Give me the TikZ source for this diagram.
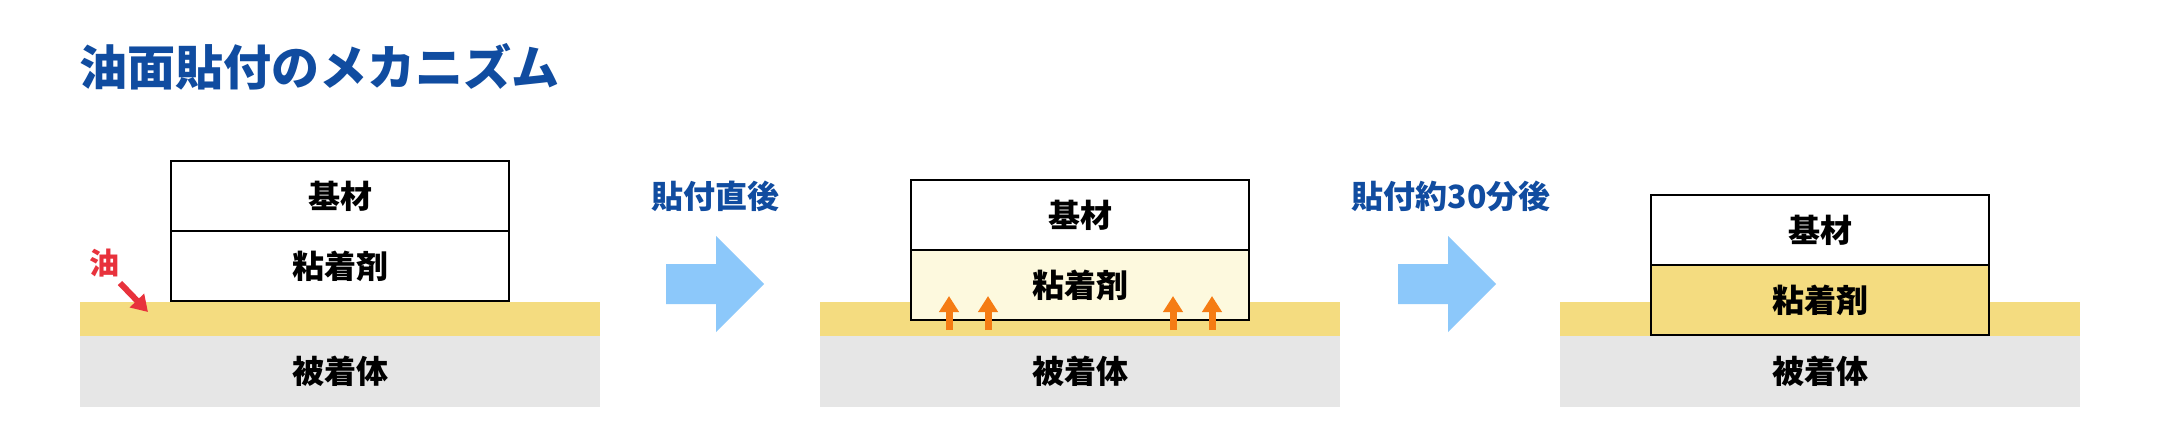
\documentclass[tikz,border=0pt]{standalone}
\usepackage{fontspec}
\setmainfont{Noto Sans CJK JP}
\usetikzlibrary{arrows.meta}
\definecolor{titleblue}{RGB}{16,76,160}
\definecolor{oilband}{RGB}{244,220,128}
\definecolor{substrate}{RGB}{230,230,230}
\definecolor{paleadh}{RGB}{253,249,222}
\definecolor{flowblue}{RGB}{140,200,250}
\definecolor{oilred}{RGB}{232,50,60}
\definecolor{seep}{RGB}{245,124,20}
\tikzset{
  lbl/.style={font=\bfseries\fontsize{32}{38}\selectfont, text=black},
  oillayer/.style={fill=oilband, draw=none, minimum width=520pt, minimum height=34pt, inner sep=0pt, outer sep=0pt},
  sublayer/.style={fill=substrate, draw=none, minimum width=520pt, minimum height=71pt, inner sep=0pt, outer sep=0pt, lbl},
  layerbox/.style={draw=black, line width=2.4pt, minimum width=338pt, minimum height=70pt, inner sep=0pt, outer sep=0pt, lbl},
  flowarrow/.style={fill=flowblue, draw=none},
  steplabel/.style={font=\bfseries\fontsize{32}{38}\selectfont, text=titleblue},
  seeparrow/.style={draw=seep, line width=7pt, -{Triangle[width=19pt,length=16pt]}},
}
\begin{document}
\begin{tikzpicture}[x=1pt,y=-1pt]
\useasboundingbox[fill=white] (0,0) rectangle (2160,440);

% title
\node[anchor=west, inner sep=0pt, font=\bfseries\fontsize{48}{56}\selectfont, text=titleblue] (title) at (79,67) {油面貼付のメカニズム};

% ---------- panel 1 ----------
\node[oillayer] (oil1) at (340,319) {};
\node[sublayer] (sub1) at (340,371.5) {被着体};
\node[layerbox, fill=white] (base1) at (340,196) {基材};
\node[layerbox, fill=white] (adh1) at (340,266) {粘着剤};
\node[font=\bfseries\fontsize{30}{36}\selectfont, text=oilred, inner sep=0pt] (oiltxt) at (104,263) {油};
\coordinate (oiltip) at (148,312);
\draw[draw=oilred, line width=6pt, -{Triangle[width=19pt,length=16pt]}] (120,283) -- (oiltip);

% arrow 1
\node[steplabel] (lab1) at (715,196) {貼付直後};
\fill[flowblue] (666,264) -- (716,264) -- (716,236) -- (764,284) -- (716,332) -- (716,304) -- (666,304) -- cycle;

% ---------- panel 2 ----------
\node[oillayer] (oil2) at (1080,319) {};
\node[sublayer] (sub2) at (1080,371.5) {被着体};
\node[layerbox, fill=white] (base2) at (1080,215) {基材};
\node[layerbox, fill=paleadh] (adh2) at (1080,285) {粘着剤};
\foreach \xx [count=\i] in {949,988,1173,1212}{
  \coordinate (s\i) at (\xx,330);
  \coordinate (t\i) at (\xx,296);
  \draw[seeparrow] (s\i) -- (t\i);
}

% arrow 2
\node[steplabel] (lab2) at (1451,196) {貼付約30分後};
\fill[flowblue] (1398,264) -- (1448,264) -- (1448,236) -- (1496,284) -- (1448,332) -- (1448,304) -- (1398,304) -- cycle;

% ---------- panel 3 ----------
\node[oillayer] (oil3) at (1820,319) {};
\node[sublayer] (sub3) at (1820,371.5) {被着体};
\node[layerbox, fill=white] (base3) at (1820,230) {基材};
\node[layerbox, fill=oilband] (adh3) at (1820,300) {粘着剤};
\end{tikzpicture}
\end{document}
